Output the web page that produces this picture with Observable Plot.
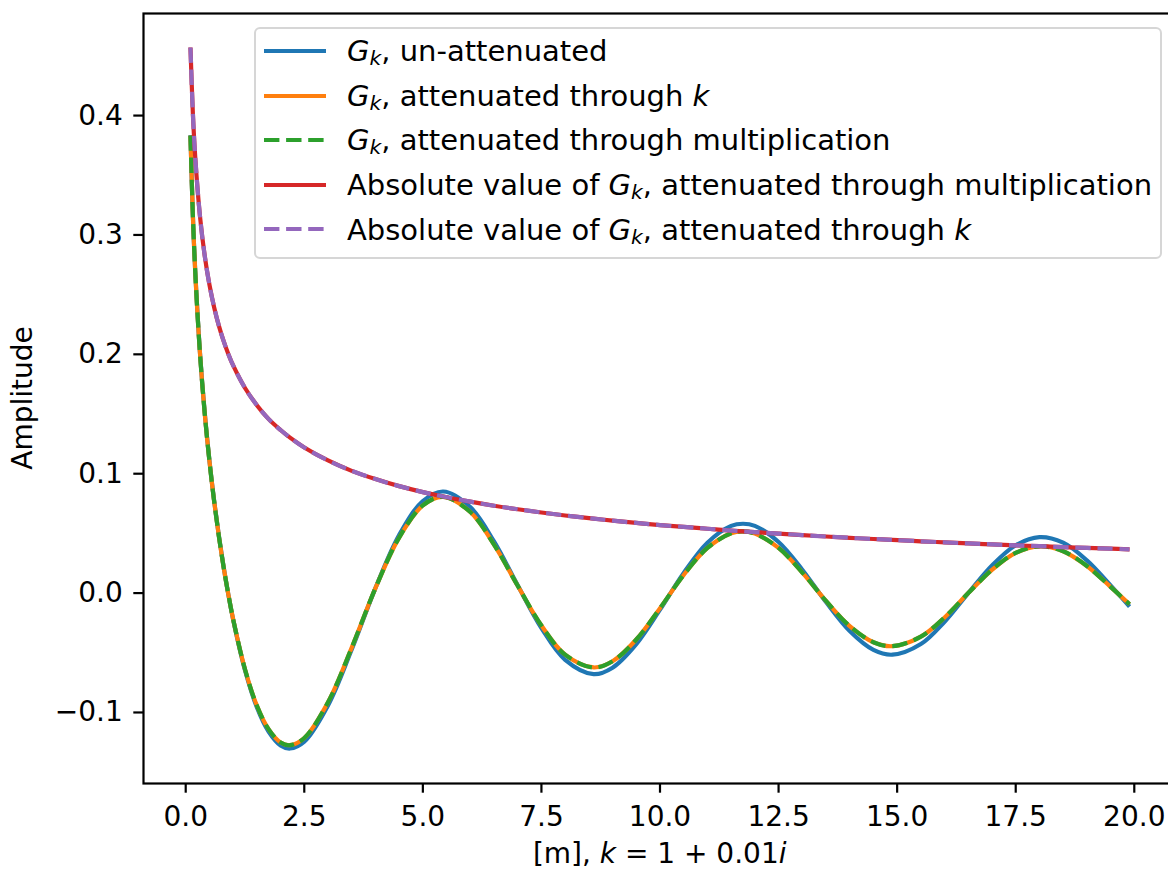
<!DOCTYPE html>
<html>
<head>
<meta charset="utf-8">
<script src="https://cdn.jsdelivr.net/npm/d3@7"></script>
<script src="https://cdn.jsdelivr.net/npm/@observablehq/plot@0.6"></script>
<style>
html, body { margin: 0; padding: 0; overflow: hidden; background: #fff; }
#wrap { position: relative; width: 1168px; height: 870px; overflow: hidden; font-family: "DejaVu Sans"; font-size: 28px; color: #000; }
#wrap > svg { position: absolute; left: 0; top: 0; max-width: none !important; }
.lbl { position: absolute; white-space: nowrap; line-height: 1; }
#legend { position: absolute; left: 254px; top: 27px; width: 908px; height: 232px; font-size: 29px; }
#legend .box { position: absolute; left: 0; top: 0; right: 0; bottom: 0; box-sizing: border-box; border: 2px solid #d6d6d6; border-radius: 6px; background: rgba(255,255,255,0.8); }
#legend .sample { position: absolute; left: 10px; width: 62px; height: 10px; overflow: visible; }
#legend .txt { position: absolute; left: 93px; white-space: nowrap; line-height: 1; }
.s { font-size: 0.7em; position: relative; top: 0.2em; font-style: italic; }
</style>
</head>
<body>
<div id="wrap"></div>
<script>
// ---- data ----
const xs = [0.1, 0.15, 0.2, 0.3, 0.4, 0.5, 0.6, 0.7, 0.8, 0.9,
  1.0, 1.25, 1.5, 1.75, 2.0, 2.2, 2.5, 3.0, 3.5, 4.0,
  4.5, 5.0, 5.43, 6.0, 6.5, 7.0, 7.5, 8.0, 8.6, 9.0,
  9.5, 10.0, 10.5, 11.0, 11.5, 11.75, 12.0, 12.5, 13.0, 13.5,
  14.0, 14.5, 14.9, 15.5, 16.0, 16.5, 17.0, 17.5, 18.0, 18.5,
  19.0, 19.5, 19.9];

const unattenuated = [0.3836, 0.3177, 0.2703, 0.2018, 0.1515, 0.1111, 0.0771, 0.0477, 0.0217, -0.0014,
  -0.0221, -0.0646, -0.0956, -0.1162, -0.1276, -0.1302, -0.1245, -0.0942, -0.0473, 0.0042,
  0.0487, 0.0771, 0.0851, 0.0720, 0.0433, 0.0065, -0.0293, -0.0559, -0.0679, -0.0625,
  -0.0428, -0.0139, 0.0169, 0.0422, 0.0563, 0.0581, 0.0563, 0.0428, 0.0196, -0.0075,
  -0.0318, -0.0476, -0.0516, -0.0427, -0.0240, 0.0000, 0.0232, 0.0401, 0.0469, 0.0422,
  0.0274, 0.0064, -0.0114];

const attenuatedK = [0.3832, 0.3172, 0.2697, 0.2012, 0.1509, 0.1106, 0.0767, 0.0474, 0.0215, -0.0014,
  -0.0219, -0.0638, -0.0942, -0.1142, -0.1251, -0.1274, -0.1214, -0.0914, -0.0457, 0.0041,
  0.0465, 0.0734, 0.0806, 0.0679, 0.0406, 0.0061, -0.0272, -0.0516, -0.0623, -0.0571,
  -0.0389, -0.0126, 0.0152, 0.0378, 0.0502, 0.0517, 0.0499, 0.0378, 0.0172, -0.0066,
  -0.0277, -0.0412, -0.0445, -0.0365, -0.0204, 0.0000, 0.0195, 0.0337, 0.0392, 0.0351,
  0.0227, 0.0052, -0.0094];

const attenuatedMult = [0.3832, 0.3172, 0.2697, 0.2012, 0.1509, 0.1106, 0.0767, 0.0474, 0.0215, -0.0014,
  -0.0219, -0.0638, -0.0942, -0.1142, -0.1251, -0.1274, -0.1214, -0.0914, -0.0457, 0.0041,
  0.0465, 0.0734, 0.0806, 0.0679, 0.0406, 0.0061, -0.0272, -0.0516, -0.0623, -0.0571,
  -0.0389, -0.0126, 0.0152, 0.0378, 0.0502, 0.0517, 0.0499, 0.0378, 0.0172, -0.0066,
  -0.0277, -0.0412, -0.0445, -0.0365, -0.0204, 0.0000, 0.0195, 0.0337, 0.0392, 0.0351,
  0.0227, 0.0052, -0.0094];

const absMult = [0.4570, 0.4028, 0.3657, 0.3160, 0.2828, 0.2583, 0.2393, 0.2238, 0.2110, 0.2001,
  0.1907, 0.1718, 0.1574, 0.1457, 0.1366, 0.1302, 0.1220, 0.1111, 0.1024, 0.0955,
  0.0896, 0.0846, 0.0809, 0.0766, 0.0732, 0.0702, 0.0675, 0.0650, 0.0624, 0.0607,
  0.0588, 0.0570, 0.0554, 0.0539, 0.0524, 0.0517, 0.0511, 0.0498, 0.0486, 0.0474,
  0.0463, 0.0453, 0.0445, 0.0434, 0.0425, 0.0416, 0.0408, 0.0400, 0.0393, 0.0385,
  0.0378, 0.0372, 0.0366];

const absK = [0.4570, 0.4028, 0.3657, 0.3160, 0.2828, 0.2583, 0.2393, 0.2238, 0.2110, 0.2001,
  0.1907, 0.1718, 0.1574, 0.1457, 0.1366, 0.1302, 0.1220, 0.1111, 0.1024, 0.0955,
  0.0896, 0.0846, 0.0809, 0.0766, 0.0732, 0.0702, 0.0675, 0.0650, 0.0624, 0.0607,
  0.0588, 0.0570, 0.0554, 0.0539, 0.0524, 0.0517, 0.0511, 0.0498, 0.0486, 0.0474,
  0.0463, 0.0453, 0.0445, 0.0434, 0.0425, 0.0416, 0.0408, 0.0400, 0.0393, 0.0385,
  0.0378, 0.0372, 0.0366];

const xTicks = [0, 2.5, 5, 7.5, 10, 12.5, 15, 17.5, 20];
const yTicks = [-0.1, 0, 0.1, 0.2, 0.3, 0.4];

const GK = '<i>G</i><span class="s">k</span>';
const legendLabels = [
  GK + ', un-attenuated',
  GK + ', attenuated through <i>k</i>',
  GK + ', attenuated through multiplication',
  'Absolute value of ' + GK + ', attenuated through multiplication',
  'Absolute value of ' + GK + ', attenuated through <i>k</i>'
];
const seriesValues = [unattenuated, attenuatedK, attenuatedMult, absMult, absK];
const seriesColors = ["#1f77b4", "#ff7f0e", "#2ca02c", "#d62728", "#9467bd"];
const seriesDash = [null, null, "15.4,6.7", null, "15.4,6.7"];
const xLabel = '[m], <i>k</i> = 1 + 0.01<i>i</i>';
const yLabel = 'Amplitude';

// ---- chart ----
const lineMarks = seriesValues.map((vals, s) =>
  Plot.line(xs.map((x, i) => ({x, y: vals[i]})), {
    x: "x", y: "y",
    stroke: seriesColors[s],
    strokeWidth: 4.2,
    strokeDasharray: seriesDash[s] ?? undefined,
    strokeLinecap: "butt",
    curve: "catmull-rom"
  })
);

const chart = Plot.plot({
  width: 1178, height: 870,
  marginLeft: 143, marginRight: 2, marginTop: 13, marginBottom: 87,
  style: {fontFamily: "DejaVu Sans", fontSize: "28px", background: "transparent", overflow: "visible", color: "black", maxWidth: "none"},
  x: {domain: [-0.89, 20.89]},
  y: {domain: [-0.1595, 0.4855]},
  marks: [
    ...lineMarks,
    Plot.frame({stroke: "black", strokeWidth: 2.2}),
    Plot.axisX({ticks: xTicks, tickFormat: d3.format(".1f"), tickSize: 9.7, tickPadding: 12.5,
      strokeWidth: 2.2, label: null, fontSize: 28}),
    Plot.axisY({ticks: yTicks, tickFormat: d3.format(".1f"), tickSize: 9.7, tickPadding: 11,
      strokeWidth: 2.2, label: null, fontSize: 28})
  ]
});

const wrap = document.getElementById("wrap");
chart.style.maxWidth = "none";
wrap.appendChild(chart);

// axis titles
const xl = document.createElement("div");
xl.className = "lbl";
xl.innerHTML = xLabel;
xl.style.left = "659.7px";
xl.style.top = "840px";
xl.style.transform = "translateX(-50%)";
wrap.appendChild(xl);

const yl = document.createElement("div");
yl.className = "lbl";
yl.textContent = yLabel;
yl.style.left = "23px";
yl.style.top = "398px";
yl.style.transform = "translate(-50%,-50%) rotate(-90deg)";
wrap.appendChild(yl);

// legend
const legend = document.createElement("div");
legend.id = "legend";
legend.innerHTML = '<div class="box"></div>';
legendLabels.forEach((lab, i) => {
  const cy = 24 + i * 44.6;
  const svgNS = "http://www.w3.org/2000/svg";
  const sv = document.createElementNS(svgNS, "svg");
  sv.setAttribute("class", "sample");
  sv.setAttribute("width", 62);
  sv.setAttribute("height", 10);
  sv.style.top = (cy - 5) + "px";
  const ln = document.createElementNS(svgNS, "line");
  ln.setAttribute("x1", 0); ln.setAttribute("x2", 62);
  ln.setAttribute("y1", 5); ln.setAttribute("y2", 5);
  ln.setAttribute("stroke", seriesColors[i]);
  ln.setAttribute("stroke-width", 4.2);
  if (seriesDash[i]) ln.setAttribute("stroke-dasharray", seriesDash[i]);
  sv.appendChild(ln);
  legend.appendChild(sv);
  const t = document.createElement("div");
  t.className = "txt";
  t.innerHTML = lab;
  t.style.top = (cy - 13.8) + "px";
  legend.appendChild(t);
});
wrap.appendChild(legend);
</script>
</body>
</html>
